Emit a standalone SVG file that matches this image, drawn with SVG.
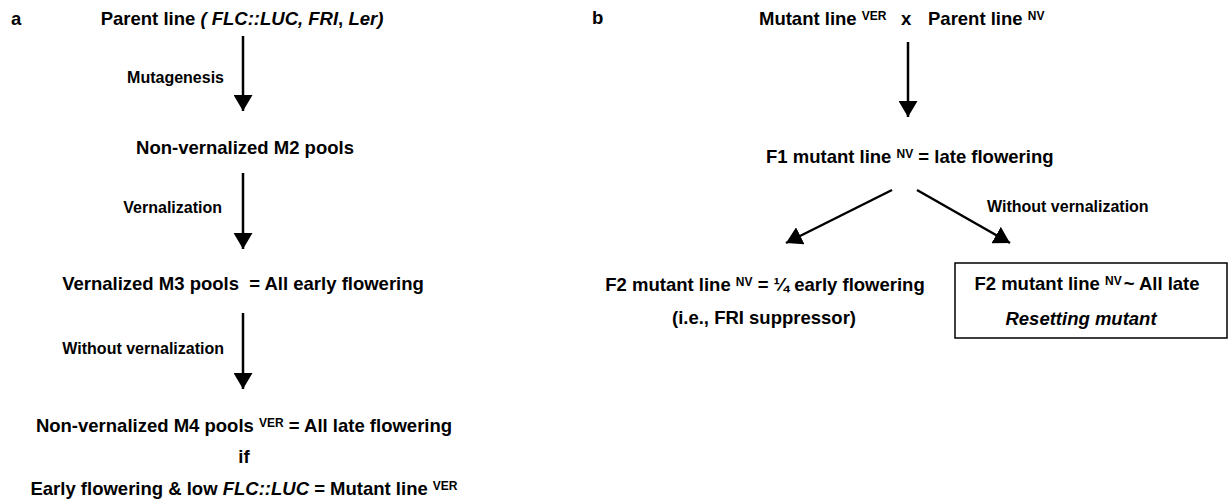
<svg xmlns="http://www.w3.org/2000/svg" width="1228" height="502" viewBox="0 0 1228 502">
<style>
text{font-family:"Liberation Sans",Arial,Helvetica,sans-serif;font-weight:bold;fill:#000}
.m{font-size:18.5px}
.l{font-size:16px}
.c{text-anchor:middle}
.e{text-anchor:end}
.i{font-style:italic}
.sup{font-size:12px}
.conn line{stroke:#000;stroke-width:2.5;marker-end:url(#ah)}
.box{fill:none;stroke:#000;stroke-width:1.5}
</style>
<defs>
<marker id="ah" markerUnits="userSpaceOnUse" markerWidth="16" markerHeight="19" viewBox="0 0 16 19" refX="16" refY="9.5" orient="auto">
<path d="M0,0 L16,9.5 L0,19 z" fill="#000"/>
</marker>
</defs>
<rect width="1228" height="502" fill="#fff"/>
<g id="panel-labels">
<text class="m" x="11" y="25">a</text>
<text class="m" x="592" y="24">b</text>
</g>
<g id="connectors" class="conn">
<line x1="243" y1="36" x2="243" y2="111"/>
<line x1="243" y1="173" x2="243" y2="249"/>
<line x1="243" y1="313" x2="243" y2="389"/>
<line x1="908" y1="42" x2="908" y2="117"/>
<line x1="892" y1="190" x2="786" y2="243"/>
<line x1="917" y1="190" x2="1010" y2="243"/>
</g>
<g id="edge-labels">
<text class="l e" x="224" y="83">Mutagenesis</text>
<text class="l e" x="222" y="213">Vernalization</text>
<text class="l e" x="224" y="354">Without vernalization</text>
<text class="l" x="987" y="212">Without vernalization</text>
</g>
<g id="a-parent">
<text class="m c" x="242" y="25">Parent line <tspan class="i">( FLC::LUC, FRI</tspan>, <tspan class="i">Ler)</tspan></text>
</g>
<g id="a-m2">
<text class="m c" x="245" y="154">Non-vernalized M2 pools</text>
</g>
<g id="a-m3">
<text class="m c" x="243" y="290" xml:space="preserve">Vernalized M3 pools  = All early flowering</text>
</g>
<g id="a-m4">
<text class="m c" x="244" y="432">Non-vernalized M4 pools <tspan class="sup" dy="-5">VER</tspan><tspan dy="5"> = All late flowering</tspan></text>
<text class="m c" x="244" y="463">if</text>
<text class="m c" x="244" y="495">Early flowering &amp; low <tspan class="i">FLC::LUC</tspan> = Mutant line <tspan class="sup" dy="-5">VER</tspan></text>
</g>
<g id="b-cross">
<text class="m" x="759" y="25">Mutant line <tspan class="sup" dy="-5">VER</tspan></text>
<text class="m" x="901" y="25">x</text>
<text class="m" x="928" y="25">Parent line <tspan class="sup" dy="-5">NV</tspan></text>
</g>
<g id="b-f1">
<text class="m" x="766" y="163">F1 mutant line <tspan class="sup" dy="-5">NV</tspan><tspan dy="5"> = late flowering</tspan></text>
</g>
<g id="b-f2-suppressor">
<text class="m c" x="765" y="291">F2 mutant line <tspan class="sup" dy="-5">NV</tspan><tspan dy="5"> = ¼ early flowering</tspan></text>
<text class="m c" x="764" y="324">(i.e., FRI suppressor)</text>
</g>
<g id="b-f2-resetting">
<rect class="box" x="955" y="263" width="272" height="75"/>
<text class="m c" x="1087" y="290">F2 mutant line <tspan class="sup" dy="-5">NV</tspan><tspan dy="5" dx="2">~ All late</tspan></text>
<text class="m c i" x="1081" y="325">Resetting mutant</text>
</g>
</svg>
